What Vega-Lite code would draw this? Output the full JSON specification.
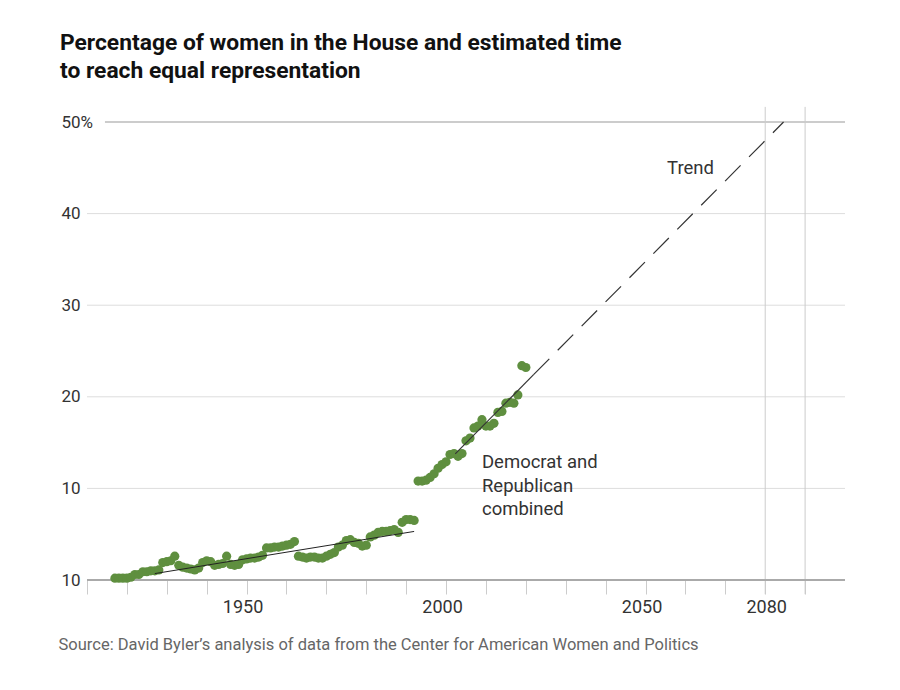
{
  "$schema": "https://vega.github.io/schema/vega-lite/v6.json",
  "width": 758,
  "height": 458,
  "autosize": "none",
  "padding": {"left": 87, "top": 122, "right": 55, "bottom": 110},
  "background": "white",
  "config": {"font": "Roboto", "view": {"stroke": null}},
  "title": {
    "text": ["Percentage of women in the House and estimated time", "to reach equal representation"],
    "anchor": "start",
    "frame": "group",
    "dx": -27,
    "offset": 24,
    "fontSize": 22.8,
    "fontWeight": "bold",
    "color": "#111",
    "lineHeight": 28,
    "font": "Roboto"
  },
  "datasets": {
    "house": [
      {"year": 1917, "pct": 0.2}, {"year": 1918, "pct": 0.2}, {"year": 1919, "pct": 0.2}, {"year": 1920, "pct": 0.2},
      {"year": 1921, "pct": 0.3}, {"year": 1922, "pct": 0.6}, {"year": 1923, "pct": 0.6}, {"year": 1924, "pct": 0.9},
      {"year": 1925, "pct": 0.9}, {"year": 1926, "pct": 1.0}, {"year": 1927, "pct": 1.0}, {"year": 1928, "pct": 1.1},
      {"year": 1929, "pct": 1.9}, {"year": 1930, "pct": 2.0}, {"year": 1931, "pct": 2.1}, {"year": 1932, "pct": 2.6},
      {"year": 1933, "pct": 1.6}, {"year": 1934, "pct": 1.4}, {"year": 1935, "pct": 1.3}, {"year": 1936, "pct": 1.2},
      {"year": 1937, "pct": 1.1}, {"year": 1938, "pct": 1.3}, {"year": 1939, "pct": 1.9}, {"year": 1940, "pct": 2.1},
      {"year": 1941, "pct": 2.0}, {"year": 1942, "pct": 1.6}, {"year": 1943, "pct": 1.7}, {"year": 1944, "pct": 1.8},
      {"year": 1945, "pct": 2.6}, {"year": 1946, "pct": 1.7}, {"year": 1947, "pct": 1.6}, {"year": 1948, "pct": 1.7},
      {"year": 1949, "pct": 2.2}, {"year": 1950, "pct": 2.3}, {"year": 1951, "pct": 2.4}, {"year": 1952, "pct": 2.4},
      {"year": 1953, "pct": 2.5}, {"year": 1954, "pct": 2.7}, {"year": 1955, "pct": 3.5}, {"year": 1956, "pct": 3.5},
      {"year": 1957, "pct": 3.6}, {"year": 1958, "pct": 3.6}, {"year": 1959, "pct": 3.7}, {"year": 1960, "pct": 3.8},
      {"year": 1961, "pct": 3.9}, {"year": 1962, "pct": 4.2}, {"year": 1963, "pct": 2.6}, {"year": 1964, "pct": 2.5},
      {"year": 1965, "pct": 2.4}, {"year": 1966, "pct": 2.5}, {"year": 1967, "pct": 2.5}, {"year": 1968, "pct": 2.4},
      {"year": 1969, "pct": 2.4}, {"year": 1970, "pct": 2.6}, {"year": 1971, "pct": 2.8}, {"year": 1972, "pct": 3.0},
      {"year": 1973, "pct": 3.6}, {"year": 1974, "pct": 3.8}, {"year": 1975, "pct": 4.3}, {"year": 1976, "pct": 4.4},
      {"year": 1977, "pct": 4.1}, {"year": 1978, "pct": 4.0}, {"year": 1979, "pct": 3.7}, {"year": 1980, "pct": 3.8},
      {"year": 1981, "pct": 4.7}, {"year": 1982, "pct": 4.9}, {"year": 1983, "pct": 5.2}, {"year": 1984, "pct": 5.3},
      {"year": 1985, "pct": 5.3}, {"year": 1986, "pct": 5.4}, {"year": 1987, "pct": 5.5}, {"year": 1988, "pct": 5.2},
      {"year": 1989, "pct": 6.3}, {"year": 1990, "pct": 6.6}, {"year": 1991, "pct": 6.6}, {"year": 1992, "pct": 6.5},
      {"year": 1993, "pct": 10.8}, {"year": 1994, "pct": 10.8}, {"year": 1995, "pct": 10.9}, {"year": 1996, "pct": 11.2},
      {"year": 1997, "pct": 11.6}, {"year": 1998, "pct": 12.2}, {"year": 1999, "pct": 12.6}, {"year": 2000, "pct": 12.9},
      {"year": 2001, "pct": 13.7}, {"year": 2002, "pct": 13.8}, {"year": 2003, "pct": 13.5}, {"year": 2004, "pct": 13.8},
      {"year": 2005, "pct": 15.2}, {"year": 2006, "pct": 15.5}, {"year": 2007, "pct": 16.6}, {"year": 2008, "pct": 16.8},
      {"year": 2009, "pct": 17.5}, {"year": 2010, "pct": 16.8}, {"year": 2011, "pct": 16.8}, {"year": 2012, "pct": 17.1},
      {"year": 2013, "pct": 18.3}, {"year": 2014, "pct": 18.4}, {"year": 2015, "pct": 19.3}, {"year": 2016, "pct": 19.4},
      {"year": 2017, "pct": 19.3}, {"year": 2018, "pct": 20.2}, {"year": 2019, "pct": 23.4}, {"year": 2020, "pct": 23.2}
    ],
    "grid": [{"pct": 10}, {"pct": 20}, {"pct": 30}, {"pct": 40}],
    "vlines": [{"year": 2080}, {"year": 2090}],
    "trendEarly": [{"year": 1927, "pct": 0.7}, {"year": 1992, "pct": 5.3}],
    "trendRecent": [{"year": 2002.3, "pct": 13.77}, {"year": 2022, "pct": 22.44}],
    "trendProjected": [{"year": 2022, "pct": 22.44}, {"year": 2084.6, "pct": 50}],
    "one": [{}]
  },
  "layer": [
    {
      "data": {"name": "grid"},
      "mark": {"type": "rule", "color": "#dddddd", "strokeWidth": 1},
      "encoding": {"y": {"field": "pct", "type": "quantitative"}}
    },
    {
      "data": {"name": "one"},
      "mark": {"type": "rule", "color": "#cccccc", "strokeWidth": 2},
      "encoding": {
        "y": {"datum": 50, "type": "quantitative"},
        "x": {"datum": 1914.5, "type": "quantitative"},
        "x2": {"datum": 2100}
      }
    },
    {
      "data": {"name": "vlines"},
      "mark": {"type": "rule", "color": "#cccccc", "strokeWidth": 1},
      "encoding": {
        "x": {"field": "year", "type": "quantitative"},
        "y": {"datum": 51.65, "type": "quantitative"},
        "y2": {"datum": -1.55}
      }
    },
    {
      "data": {"name": "one"},
      "mark": {"type": "rule", "color": "#aaaaaa", "strokeWidth": 2},
      "encoding": {"y": {"datum": 0, "type": "quantitative"}}
    },
    {
      "data": {"name": "house"},
      "mark": {"type": "circle", "size": 85, "color": "#5f8f3f", "opacity": 1},
      "encoding": {
        "x": {
          "field": "year",
          "type": "quantitative",
          "scale": {"domain": [1910, 2100], "nice": false, "zero": false},
          "axis": {
            "values": [1910, 1920, 1930, 1940, 1950, 1960, 1970, 1980, 1990, 2000, 2010, 2020, 2030, 2040, 2050, 2060, 2070, 2080, 2090],
            "format": "d",
            "labelExpr": "indexof([1950, 2000, 2050, 2080], datum.value) >= 0 ? datum.label : ''",
            "tickSize": 14,
            "tickColor": "#cccccc",
            "tickWidth": 1,
            "domain": false,
            "grid": false,
            "labelFontSize": 18,
            "labelColor": "#333333",
            "labelPadding": 4,
            "labelOffset": {"condition": {"test": "datum.value == 2080", "value": 1}, "value": -4},
            "labelFlush": false,
            "labelOverlap": false,
            "title": "Source: David Byler’s analysis of data from the Center for American Women and Politics",
            "titleX": -29,
            "titleY": 69,
            "titleAnchor": "start",
            "titleAlign": "left",
            "titleBaseline": "alphabetic",
            "titleFontSize": 16.5,
            "titleFontWeight": "normal",
            "titleColor": "#666666"
          }
        },
        "y": {
          "field": "pct",
          "type": "quantitative",
          "scale": {"domain": [0, 50], "nice": false},
          "axis": {
            "values": [0, 10, 20, 30, 40, 50],
            "format": "d",
            "labelExpr": "datum.value == 50 ? '50%' : (datum.value == 0 ? '10' : datum.label)",
            "labelAlign": "left",
            "labelBaseline": "middle",
            "ticks": false,
            "tickSize": 0,
            "labelPadding": 26,
            "domain": false,
            "grid": false,
            "labelFontSize": 17,
            "labelColor": "#333333",
            "title": null
          }
        }
      }
    },
    {
      "data": {"name": "trendEarly"},
      "mark": {"type": "line", "color": "#222222", "strokeWidth": 1},
      "encoding": {
        "x": {"field": "year", "type": "quantitative"},
        "y": {"field": "pct", "type": "quantitative"}
      }
    },
    {
      "data": {"name": "trendRecent"},
      "mark": {"type": "line", "color": "#333333", "strokeWidth": 1.2},
      "encoding": {
        "x": {"field": "year", "type": "quantitative"},
        "y": {"field": "pct", "type": "quantitative"}
      }
    },
    {
      "data": {"name": "trendProjected"},
      "mark": {"type": "line", "color": "#333333", "strokeWidth": 1.2, "strokeDash": [22, 12]},
      "encoding": {
        "x": {"field": "year", "type": "quantitative"},
        "y": {"field": "pct", "type": "quantitative"}
      }
    },
    {
      "data": {"name": "one"},
      "mark": {"type": "text", "text": "Trend", "align": "left", "baseline": "alphabetic", "fontSize": 18.5, "color": "#333333"},
      "encoding": {
        "x": {"datum": 2055.4, "type": "quantitative"},
        "y": {"datum": 44.3, "type": "quantitative"}
      }
    },
    {
      "data": {"name": "one"},
      "mark": {"type": "text", "text": ["Democrat and", "Republican", "combined"], "align": "left", "baseline": "alphabetic", "fontSize": 18.5, "lineHeight": 23.5, "color": "#333333"},
      "encoding": {
        "x": {"datum": 2009, "type": "quantitative"},
        "y": {"datum": 12.2, "type": "quantitative"}
      }
    }
  ]
}
